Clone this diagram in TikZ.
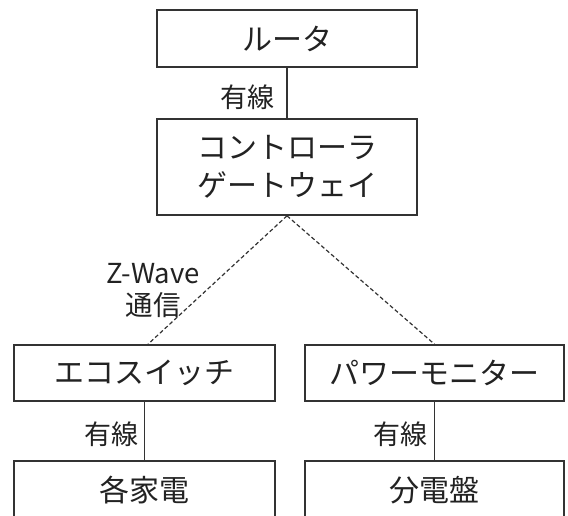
\documentclass[tikz,border=0pt]{standalone}
\usepackage{fontspec}
\setmainfont{Noto Sans CJK JP}
\usetikzlibrary{calc}
\definecolor{linecol}{HTML}{333333}
\definecolor{txtcol}{HTML}{222222}
\begin{document}
\begin{tikzpicture}[x=1pt,y=-1pt,
  box/.style={draw=linecol, line width=1.6pt, inner sep=0pt, text=txtcol,
              font=\fontsize{30}{38}\selectfont, align=center},
  wire/.style={draw=linecol, line width=1.6pt},
  radio/.style={draw=linecol, line width=1.2pt, dash pattern=on 4pt off 2.5pt},
  lbl/.style={inner sep=0pt, text=txtcol, font=\fontsize{27}{32}\selectfont}]
\useasboundingbox (0,0) rectangle (568,515);
\clip (0,0) rectangle (568,515);
\node[box, minimum width=260pt, minimum height=57pt] (router) at (287,38.5) {ルータ};
\node[box, minimum width=260pt, minimum height=96pt] (gw) at (287,167) {コントローラ\\ゲートウェイ};
\node[box, minimum width=261pt, minimum height=56pt] (eco) at (144.5,373) {エコスイッチ};
\node[box, minimum width=259pt, minimum height=56pt] (pow) at (434.5,373) {パワーモニター};
\node[box, anchor=north, minimum width=261pt, text height=25pt, text depth=40pt, inner ysep=16pt] (app) at (144.5,460) {各家電};
\node[box, anchor=north, minimum width=259pt, text height=25pt, text depth=40pt, inner ysep=16pt] (board) at (434.5,460) {分電盤};
\draw[wire] (router.south) -- (gw.north);
\draw[wire] (eco.south) -- (app.north);
\draw[wire] (pow.south) -- (board.north);
\draw[radio] (gw.south) -- ($(eco.north)+(3.5,0)$);
\draw[radio] (gw.south) -- (pow.north);
\node[lbl, anchor=east] (l1) at ($(router.south)!0.5!(gw.north)+(-12,4)$) {有線};
\node[lbl, anchor=east] (l2) at ($(eco.south)!0.5!(app.north)+(-6,3)$) {有線};
\node[lbl, anchor=east] (l3) at ($(pow.south)!0.5!(board.north)+(-7,3)$) {有線};
\node[lbl, align=center, font=\fontsize{27.5}{32}\selectfont] (zw) at (153,291) {Z-Wave\\通信};
\end{tikzpicture}
\end{document}
